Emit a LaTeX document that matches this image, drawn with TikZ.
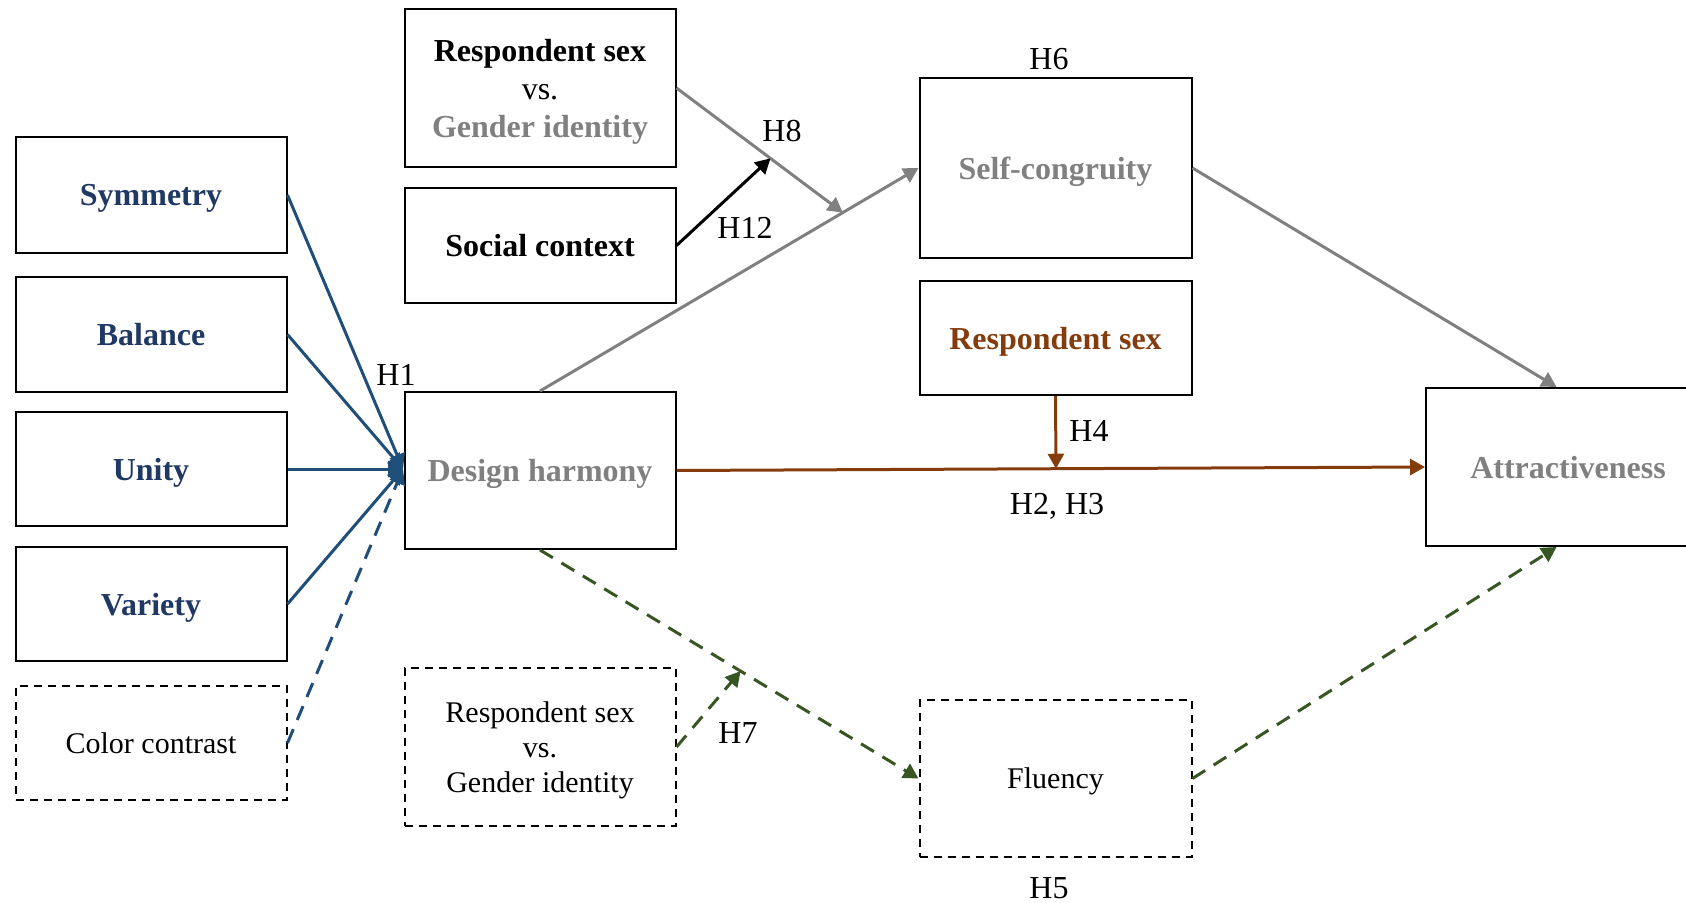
\documentclass[tikz,border=0pt]{standalone}
\usepackage{fontspec}
\setmainfont{Liberation Serif}
\usetikzlibrary{positioning, arrows.meta, calc}
\definecolor{navy}{HTML}{1F3864}
\definecolor{steel}{HTML}{1F4E79}
\definecolor{midgray}{HTML}{808080}
\definecolor{rust}{HTML}{843C0C}
\definecolor{moss}{HTML}{375623}

\begin{document}
\begin{tikzpicture}[x=0.5pt, y=-0.5pt, >={Triangle[length=7.5pt,width=8pt]},
  box/.style={draw, line width=1pt, minimum width=135.5pt, inner sep=0pt, text depth=0pt, align=center, font=\fontsize{16}{19}\selectfont\bfseries},
  dbox/.style={box, dash pattern=on 4pt off 3pt, font=\fontsize{15}{17.5}\selectfont},
  hyp/.style={font=\fontsize{16}{19}\selectfont, inner sep=0pt},
  link/.style={line width=1.5pt},
  dlink/.style={link, dash pattern=on 7.5pt off 5pt}]
  \useasboundingbox (0,0) rectangle (1686,903);

  % dimensions of design harmony
  \node[box, minimum height=58pt, text=navy] (sym) at (151,195) {Symmetry};
  \node[box, minimum height=57.5pt, text=navy] (bal) at (151,334.5) {Balance};
  \node[box, minimum height=57pt, text=navy] (uni) at (151,469) {Unity};
  \node[box, minimum height=57pt, text=navy] (var) at (151,604) {Variety};
  \node[dbox, minimum height=57pt] (col) at (151,743) {Color contrast};

  % middle column
  \node[box, minimum height=79pt] (rsgi) at (540,88) {Respondent sex\\{\normalfont vs.}\\\textcolor{midgray}{Gender identity}};
  \node[box, minimum height=57.5pt] (soc) at (540,245.5) {Social context};
  \node[box, minimum height=78.5pt, text=midgray] (dh) at (540,470.5) {Design harmony};
  \node[dbox, minimum height=79pt] (rsgid) at (540,747) {Respondent sex\\vs.\\Gender identity};

  % mediators and outcome
  \node[box, minimum width=136pt, minimum height=90pt, text=midgray] (sc) at (1055.5,168) {Self-congruity};
  \node[box, minimum width=136pt, minimum height=57pt, text=rust] (rs) at (1055.5,338) {Respondent sex};
  \node[dbox, minimum width=136pt, minimum height=78.5pt] (flu) at (1055.5,778.5) {Fluency};
  \node[box, minimum width=142pt, minimum height=79pt, text=midgray] (att) at (1568,467) {Attractiveness};

  \coordinate (h1) at (403,469);
  \coordinate (h8) at ($(dh.north)!0.8!(sc.west)$);
  \coordinate (h12) at ($(rsgi.east)!0.565!(h8)$);
  \coordinate (h4) at ($(dh.east)!0.507!(att.west)$);
  \coordinate (h7) at ($(dh.south)!0.53!(flu.west)$);
  \coordinate (attn) at ($(att.north west)!0.46!(att.north east)$);
  \coordinate (atts) at ($(att.south west)!0.46!(att.south east)$);

  % H1
  \foreach \n in {sym, bal, uni, var}
    \draw[link, steel, ->] (\n.east) -- (h1);
  \draw[dlink, steel, ->] (col.east) -- (h1);

  % self-congruity path
  \draw[link, midgray, ->] (dh.north) -- (sc.west);
  \draw[link, midgray, ->] (sc.east) -- (attn);
  \draw[link, midgray, ->] (rsgi.east) -- (h8);
  \draw[link, ->] (soc.east) -- (h12);

  % direct path
  \draw[link, rust, ->] (dh.east) -- (att.west);
  \draw[link, rust, ->] (rs.south) -- (h4);

  % fluency path
  \draw[dlink, moss, ->] (dh.south) -- (flu.west);
  \draw[dlink, moss, ->] (flu.east) -- (atts);
  \draw[dlink, moss, ->] (rsgid.east) -- (h7);

  % hypothesis labels
  \node[hyp] (lh1) at (396,375) {H1};
  \node[hyp] (lh6) at (1049,59) {H6};
  \node[hyp] (lh8) at (782,131) {H8};
  \node[hyp] (lh12) at (745,228) {H12};
  \node[hyp] (lh4) at (1089,431) {H4};
  \node[hyp] (lh23) at (1057,506) {H2, H3};
  \node[hyp] (lh7) at (738,733) {H7};
  \node[hyp] (lh5) at (1049,888) {H5};
\end{tikzpicture}
\end{document}
